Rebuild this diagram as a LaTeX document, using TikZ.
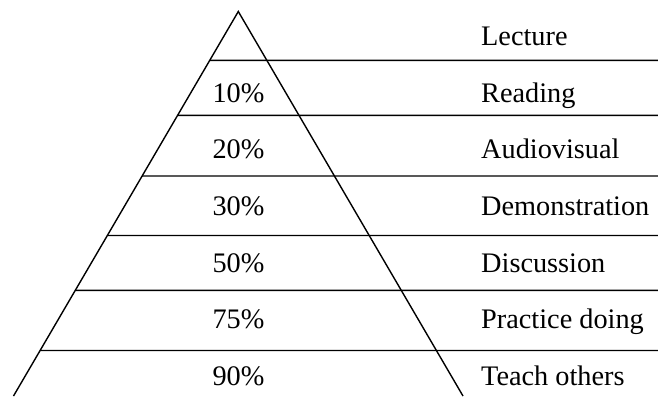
\documentclass[tikz,border=0pt]{standalone}
\usepackage{fontspec}
\setmainfont{Liberation Serif}
\usetikzlibrary{calc}
\begin{document}
\begin{tikzpicture}[x=1bp,y=-1bp,
  edge/.style={line width=1.4bp,black},
  pct/.style={anchor=base,inner sep=0pt,font=\fontsize{28.4}{34}\selectfont},
  act/.style={anchor=base west,inner sep=0pt,font=\fontsize{28.4}{34}\selectfont}]
\useasboundingbox (0,0) rectangle (658,396);
\coordinate (apex) at (238.3,11.5);
\coordinate (bl) at (13.5,396);
\coordinate (br) at (463,396);
\draw[edge,line join=miter] (bl) -- (apex) -- (br);
% horizontal separators
\foreach \y [count=\i] in {60.3,115.3,176,235.5,290.3,350.5}{
  \pgfmathsetmacro{\t}{(\y-11.5)/(396-11.5)}
  \coordinate (s\i) at ($(apex)!\t!(bl)$);
  \coordinate (e\i) at (658,\y);
  \draw[edge] (s\i) -- (e\i);
}
% percentages
\node[pct] (p1) at (238.5,102) {10\%};
\node[pct] (p2) at (238.5,158.5) {20\%};
\node[pct] (p3) at (238.5,215) {30\%};
\node[pct] (p4) at (238.5,272) {50\%};
\node[pct] (p5) at (238.5,328.5) {75\%};
\node[pct] (p6) at (238.5,385) {90\%};
% activities
\node[act] (a0) at (481,45) {Lecture};
\node[act] (a1) at (481,102) {Reading};
\node[act] (a2) at (481,158.5) {Audiovisual};
\node[act] (a3) at (481,215) {Demonstration};
\node[act] (a4) at (481,272) {Discussion};
\node[act] (a5) at (481,328.5) {Practice doing};
\node[act] (a6) at (481,385) {Teach others};
\end{tikzpicture}
\end{document}
